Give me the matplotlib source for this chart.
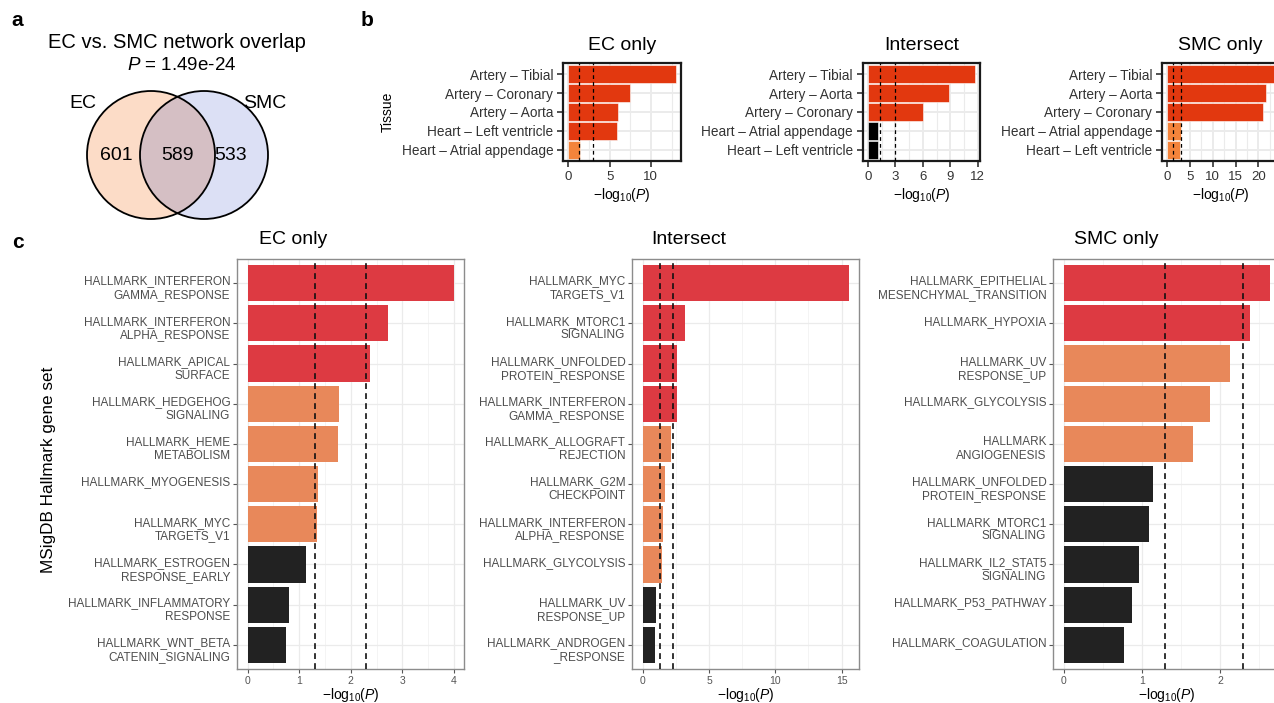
import numpy as np
import matplotlib
matplotlib.use('Agg')
import matplotlib.pyplot as plt
from matplotlib.patches import Circle
from matplotlib.ticker import MultipleLocator

plt.rcParams['font.family'] = ['Liberation Sans', 'DejaVu Sans']
plt.rcParams['mathtext.fontset'] = 'custom'
plt.rcParams['mathtext.rm'] = 'Liberation Sans'
plt.rcParams['mathtext.it'] = 'Liberation Sans:italic'
plt.rcParams['mathtext.bf'] = 'Liberation Sans:bold'

W, H = 1274, 703

# a: venn counts (EC only, shared, SMC only)
venn_counts = [601, 589, 533]
venn_names = ['EC', 'SMC']
venn_p = '1.49e-24'

# b: tissue enrichment, -log10(P)
b_titles = ['EC only', 'Intersect', 'SMC only']
b_labels = [
    ['Artery – Tibial', 'Artery – Coronary', 'Artery – Aorta', 'Heart – Left ventricle', 'Heart – Atrial appendage'],
    ['Artery – Tibial', 'Artery – Aorta', 'Artery – Coronary', 'Heart – Atrial appendage', 'Heart – Left ventricle'],
    ['Artery – Tibial', 'Artery – Aorta', 'Artery – Coronary', 'Heart – Atrial appendage', 'Heart – Left ventricle'],
]
b_ec = [13.0, 7.48, 6.0, 5.92, 1.44]
b_int = [11.66, 8.89, 5.97, 1.11, 1.04]
b_smc = [23.4, 21.7, 21.0, 2.97, 2.88]
b_steps = [5, 3, 5]

# c: hallmark gene sets, -log10(P)
c_titles = ['EC only', 'Intersect', 'SMC only']
c_ec_labels = ['HALLMARK_INTERFERON\nGAMMA_RESPONSE', 'HALLMARK_INTERFERON\nALPHA_RESPONSE',
               'HALLMARK_APICAL\nSURFACE', 'HALLMARK_HEDGEHOG\nSIGNALING', 'HALLMARK_HEME\nMETABOLISM',
               'HALLMARK_MYOGENESIS', 'HALLMARK_MYC\nTARGETS_V1', 'HALLMARK_ESTROGEN\nRESPONSE_EARLY',
               'HALLMARK_INFLAMMATORY\nRESPONSE', 'HALLMARK_WNT_BETA\nCATENIN_SIGNALING']
c_ec = [4.0, 2.72, 2.37, 1.78, 1.75, 1.37, 1.35, 1.13, 0.80, 0.75]
c_int_labels = ['HALLMARK_MYC\nTARGETS_V1', 'HALLMARK_MTORC1\nSIGNALING', 'HALLMARK_UNFOLDED\nPROTEIN_RESPONSE',
                'HALLMARK_INTERFERON\nGAMMA_RESPONSE', 'HALLMARK_ALLOGRAFT\nREJECTION', 'HALLMARK_G2M\nCHECKPOINT',
                'HALLMARK_INTERFERON\nALPHA_RESPONSE', 'HALLMARK_GLYCOLYSIS', 'HALLMARK_UV\nRESPONSE_UP',
                'HALLMARK_ANDROGEN\n_RESPONSE']
c_int = [15.53, 3.17, 2.56, 2.57, 2.14, 1.69, 1.51, 1.46, 1.01, 0.90]
c_smc_labels = ['HALLMARK_EPITHELIAL\nMESENCHYMAL_TRANSITION', 'HALLMARK_HYPOXIA', 'HALLMARK_UV\nRESPONSE_UP',
                'HALLMARK_GLYCOLYSIS', 'HALLMARK\nANGIOGENESIS', 'HALLMARK_UNFOLDED\nPROTEIN_RESPONSE',
                'HALLMARK_MTORC1\nSIGNALING', 'HALLMARK_IL2_STAT5\nSIGNALING', 'HALLMARK_P53_PATHWAY',
                'HALLMARK_COAGULATION']
c_smc = [2.64, 2.38, 2.13, 1.875, 1.66, 1.14, 1.09, 0.97, 0.874, 0.77]
c_steps = [1, 5, 1]

fig = plt.figure(figsize=(W / 100, H / 100), dpi=100)


def px_axes(l, t, r, b):
    return fig.add_axes([l / W, 1 - b / H, (r - l) / W, (b - t) / H])


# overlay for free text and the venn
ov = fig.add_axes([0, 0, 1, 1])
ov.set_xlim(0, W)
ov.set_ylim(H, 0)
ov.axis('off')
ov.patch.set_visible(False)

for lab, x, y in [('a', 17, 21), ('b', 367, 21), ('c', 18, 243)]:
    ov.text(x, y, lab, fontsize=15, fontweight='bold', ha='center', va='center')

ov.text(177, 43, 'EC vs. SMC network overlap', fontsize=14.5, ha='center', va='center')
ov.text(182, 65, r'$P$ = ' + venn_p, fontsize=13.5, ha='center', va='center')

c_ec_circ = (151, 155)
c_smc_circ = (204, 155)
r = 64
ov.add_patch(Circle(c_ec_circ, r, fc='#FCDCC7', ec='none'))
smc_patch = Circle(c_smc_circ, r, fc='#DCE0F5', ec='none')
ov.add_patch(smc_patch)
lens = Circle(c_ec_circ, r, fc='#D5BFC4', ec='none')
ov.add_patch(lens)
lens.set_clip_path(smc_patch)
ov.add_patch(Circle(c_ec_circ, r, fill=False, ec='black', lw=1.3))
ov.add_patch(Circle(c_smc_circ, r, fill=False, ec='black', lw=1.3))
ov.text(83, 103, venn_names[0], fontsize=14, ha='center', va='center')
ov.text(265, 103, venn_names[1], fontsize=14, ha='center', va='center')
for cnt, x in zip(venn_counts, [116, 177, 231]):
    ov.text(x, 155, str(cnt), fontsize=14, ha='center', va='center')

xlab = r'$-\mathrm{log}_{10}(P)$'

# ---- panel b
b_red, b_orange = '#E2380F', '#F4843B'
b_boxes = [(563, 681), (862.7, 980), (1162, 1279)]
for i, vals in enumerate([b_ec, b_int, b_smc]):
    l, rr = b_boxes[i]
    ax = px_axes(l, 63, rr, 161)
    n = len(vals)
    y = np.arange(n)
    cols = [b_red if v > 3 else (b_orange if v > 1.3 else 'black') for v in vals]
    ax.barh(y, vals, height=0.94, color=cols, edgecolor='white', lw=0.4, zorder=2)
    vmax = max(vals)
    ax.set_xlim(-0.05 * vmax, 1.05 * vmax)
    ax.set_ylim(n - 0.4, -0.6)
    for v in [1.3, 3]:
        ax.axvline(v, color='black', ls=(0, (3, 2.5)), lw=0.9, zorder=3)
    ax.xaxis.set_major_locator(MultipleLocator(b_steps[i]))
    ax.xaxis.set_minor_locator(MultipleLocator(b_steps[i] / 2))
    ax.grid(which='major', color='#EBEBEB', lw=1.4, zorder=0)
    ax.grid(which='minor', axis='x', color='#EBEBEB', lw=0.8, zorder=0)
    ax.set_axisbelow(True)
    ax.set_yticks(y)
    ax.set_yticklabels(b_labels[i], fontsize=9.8, color='#333333')
    for sp in ax.spines.values():
        sp.set_linewidth(1.6)
        sp.set_color('#1A1A1A')
    ax.tick_params(length=4, width=1.2, color='#333333', pad=3, labelcolor='#333333')
    ax.tick_params(axis='x', labelsize=9.5)
    ax.tick_params(which='minor', length=0)
    ax.set_xlabel(xlab, fontsize=10, labelpad=2)
    ax.set_title(b_titles[i], fontsize=14, pad=9)
    if i == 0:
        ax.set_ylabel('Tissue', fontsize=10, labelpad=5)

# ---- panel c
c_red, c_orange, c_black = '#DD3A42', '#E8885A', '#222222'
c_boxes = [(237.3, 464.3), (632.3, 859), (1053.3, 1280.3)]
c_title_x = [293, 689, 1116]
c_label_sets = [c_ec_labels, c_int_labels, c_smc_labels]
for i, vals in enumerate([c_ec, c_int, c_smc]):
    l, rr = c_boxes[i]
    ax = px_axes(l, 259, rr, 669)
    n = len(vals)
    y = np.arange(n)
    cols = [c_red if v > 2.3 else (c_orange if v > 1.3 else c_black) for v in vals]
    ax.barh(y, vals, height=0.9, color=cols, edgecolor='none', zorder=2)
    vmax = max(vals)
    ax.set_xlim(-0.05 * vmax, 1.05 * vmax)
    ax.set_ylim(n - 0.4, -0.6)
    for v in [1.3, 2.3]:
        ax.axvline(v, color='#111111', ls=(0, (3.5, 2.5)), lw=1.2, zorder=3)
    ax.xaxis.set_major_locator(MultipleLocator(c_steps[i]))
    ax.xaxis.set_minor_locator(MultipleLocator(c_steps[i] / 2))
    ax.grid(which='major', color='#EBEBEB', lw=0.9, zorder=0)
    ax.grid(which='minor', axis='x', color='#F2F2F2', lw=0.6, zorder=0)
    ax.set_axisbelow(True)
    ax.set_yticks(y)
    ax.set_yticklabels([])
    for k, lab in enumerate(c_label_sets[i]):
        ax.annotate(lab, xy=(0, k), xycoords=('axes fraction', 'data'),
                    xytext=(-5, 5.5), textcoords='offset points', ha='right', va='top',
                    fontsize=8.5, color='#4D4D4D', linespacing=1.2, multialignment='right',
                    annotation_clip=False)
    for sp in ax.spines.values():
        sp.set_linewidth(1.0)
        sp.set_color('#8C8C8C')
    ax.tick_params(length=3, width=0.8, color='#555555', pad=2, labelsize=7.5, labelcolor='#555555')
    ax.tick_params(which='minor', length=0)
    ax.set_xlabel(xlab, fontsize=10, labelpad=0)
    ov.text(c_title_x[i], 239, c_titles[i], fontsize=14, ha='center', va='center')

ov.text(49, 470, 'MSigDB Hallmark gene set', fontsize=12.3, rotation=90, ha='center', va='center')

fig.savefig('out.png', dpi=100)
